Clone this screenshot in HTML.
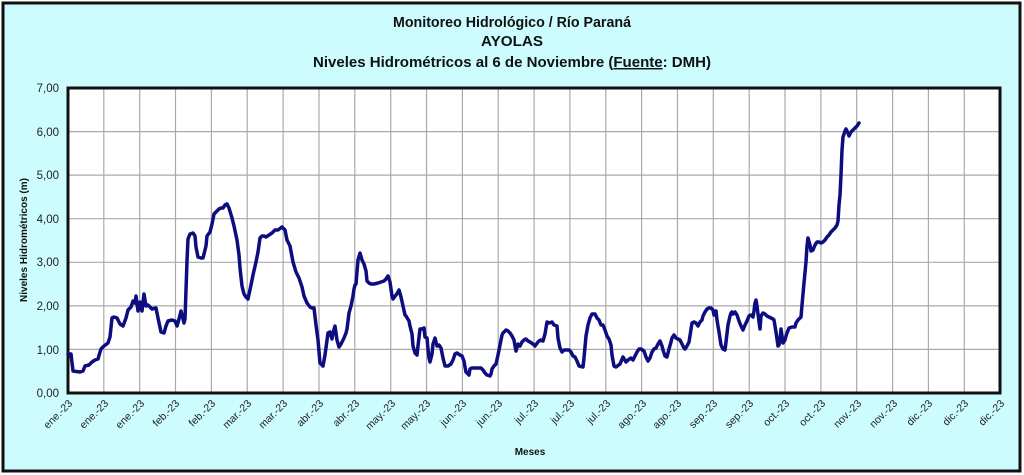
<!DOCTYPE html>
<html><head><meta charset="utf-8"><style>
html,body{margin:0;padding:0;background:#fff}
svg{display:block;font-family:"Liberation Sans",sans-serif}
</style></head><body>
<svg width="1024" height="475" viewBox="0 0 1024 475" xmlns="http://www.w3.org/2000/svg">
<rect x="0" y="0" width="1024" height="475" fill="#fff"/>
<rect x="3" y="3" width="1017" height="468" fill="#ccfcfd" stroke="#111" stroke-width="3"/>
<g font-weight="bold" font-size="14.5" text-anchor="middle" fill="#111">
<text x="512" y="27" textLength="238" lengthAdjust="spacingAndGlyphs">Monitoreo Hidrológico / Río Paraná</text>
<text x="512" y="46" textLength="62" lengthAdjust="spacingAndGlyphs">AYOLAS</text>
<text x="512" y="67" textLength="398" lengthAdjust="spacingAndGlyphs">Niveles Hidrométricos al 6 de Noviembre (<tspan text-decoration="underline">Fuente</tspan>: DMH)</text>
</g>
<rect x="68" y="88" width="932" height="305" fill="#fff"/>
<g stroke="#aaa" stroke-width="1.2">
<line x1="68" y1="131.6" x2="1000" y2="131.6"/><line x1="68" y1="175.1" x2="1000" y2="175.1"/>
<line x1="68" y1="218.7" x2="1000" y2="218.7"/><line x1="68" y1="262.3" x2="1000" y2="262.3"/>
<line x1="68" y1="305.9" x2="1000" y2="305.9"/><line x1="68" y1="349.4" x2="1000" y2="349.4"/>
<line x1="103.8" y1="88" x2="103.8" y2="393"/><line x1="139.7" y1="88" x2="139.7" y2="393"/>
<line x1="175.5" y1="88" x2="175.5" y2="393"/><line x1="211.4" y1="88" x2="211.4" y2="393"/>
<line x1="247.2" y1="88" x2="247.2" y2="393"/><line x1="283.1" y1="88" x2="283.1" y2="393"/>
<line x1="319" y1="88" x2="319" y2="393"/><line x1="354.8" y1="88" x2="354.8" y2="393"/>
<line x1="390.7" y1="88" x2="390.7" y2="393"/><line x1="426.5" y1="88" x2="426.5" y2="393"/>
<line x1="462.4" y1="88" x2="462.4" y2="393"/><line x1="498.2" y1="88" x2="498.2" y2="393"/>
<line x1="534.1" y1="88" x2="534.1" y2="393"/><line x1="569.9" y1="88" x2="569.9" y2="393"/>
<line x1="605.8" y1="88" x2="605.8" y2="393"/><line x1="641.6" y1="88" x2="641.6" y2="393"/>
<line x1="677.5" y1="88" x2="677.5" y2="393"/><line x1="713.3" y1="88" x2="713.3" y2="393"/>
<line x1="749.2" y1="88" x2="749.2" y2="393"/><line x1="785" y1="88" x2="785" y2="393"/>
<line x1="820.9" y1="88" x2="820.9" y2="393"/><line x1="856.7" y1="88" x2="856.7" y2="393"/>
<line x1="892.6" y1="88" x2="892.6" y2="393"/><line x1="928.4" y1="88" x2="928.4" y2="393"/>
<line x1="964.3" y1="88" x2="964.3" y2="393"/>
</g>
<rect x="68" y="88" width="932" height="305" fill="none" stroke="#111" stroke-width="3"/>
<g font-size="11.5" fill="#222" text-anchor="end">
<text x="59" y="92">7,00</text><text x="59" y="136">6,00</text><text x="59" y="179">5,00</text>
<text x="59" y="223">4,00</text><text x="59" y="266">3,00</text><text x="59" y="310">2,00</text>
<text x="59" y="354">1,00</text><text x="59" y="397">0,00</text>
</g>
<text transform="translate(27,240) rotate(-90)" font-size="10" font-weight="bold" text-anchor="middle" fill="#111">Niveles Hidrométricos (m)</text>
<text x="530" y="455" font-size="10" font-weight="bold" text-anchor="middle" fill="#111">Meses</text>
<g font-size="10.5" fill="#222" text-anchor="end">
<text transform="translate(73,404) rotate(-45)">ene.-23</text>
<text transform="translate(109,404) rotate(-45)">ene.-23</text>
<text transform="translate(145,404) rotate(-45)">ene.-23</text>
<text transform="translate(180,404) rotate(-45)">feb.-23</text>
<text transform="translate(216,404) rotate(-45)">feb.-23</text>
<text transform="translate(252,404) rotate(-45)">mar.-23</text>
<text transform="translate(288,404) rotate(-45)">mar.-23</text>
<text transform="translate(324,404) rotate(-45)">abr.-23</text>
<text transform="translate(360,404) rotate(-45)">abr.-23</text>
<text transform="translate(396,404) rotate(-45)">may.-23</text>
<text transform="translate(431,404) rotate(-45)">may.-23</text>
<text transform="translate(467,404) rotate(-45)">jun.-23</text>
<text transform="translate(503,404) rotate(-45)">jun.-23</text>
<text transform="translate(539,404) rotate(-45)">jul.-23</text>
<text transform="translate(575,404) rotate(-45)">jul.-23</text>
<text transform="translate(611,404) rotate(-45)">jul.-23</text>
<text transform="translate(647,404) rotate(-45)">ago.-23</text>
<text transform="translate(682,404) rotate(-45)">ago.-23</text>
<text transform="translate(718,404) rotate(-45)">sep.-23</text>
<text transform="translate(754,404) rotate(-45)">sep.-23</text>
<text transform="translate(790,404) rotate(-45)">oct.-23</text>
<text transform="translate(826,404) rotate(-45)">oct.-23</text>
<text transform="translate(862,404) rotate(-45)">nov.-23</text>
<text transform="translate(898,404) rotate(-45)">nov.-23</text>
<text transform="translate(933,404) rotate(-45)">dic.-23</text>
<text transform="translate(969,404) rotate(-45)">dic.-23</text>
<text transform="translate(1005,404) rotate(-45)">dic.-23</text>
</g>
<polyline fill="none" stroke="#0d0d80" stroke-width="3.5" stroke-linejoin="round" stroke-linecap="round" points="
68,354 71,354 73,371 80,372 83,371 85,366 89,365 92,362 95,360 98,359 100,352 101,349 104,346 108,343 110,337 112,318 114,317 117,318 120,324 123,326 126,318 128,310 131,307 133,301 135,303 136,296 138,311 140,302 142,311 144,294 146,306 148,305 152,309 156,308 158,318 161,332 164,333 166,326 168,321 172,320 175,321 177,326 179,319 181,311 184,323 185,319 187,261 188,239 190,234 193,233 195,236 196,247 198,257 201,258 203,258 206,246 207,236 210,232 212,224 214,214 216,212 219,209 221,208 223,208 225,205 227,204 229,208 232,218 234,226 237,240 239,255 240,268 242,286 244,294 246,297 248,299 251,285 253,275 256,262 258,252 260,238 262,236 264,236 266,237 269,235 272,233 275,230 278,230 282,227 285,230 287,240 290,246 293,262 296,272 299,278 302,287 304,296 307,303 310,307 312,308 314,308 316,325 318,340 320,363 323,366 325,355 328,333 330,332 332,339 333,333 335,326 337,340 339,347 341,344 344,338 346,333 347,329 349,313 351,306 353,296 354,289 355,285 356,284 358,260 360,253 362,260 364,264 366,271 367,281 369,283 371,284 374,284 378,283 381,282 384,281 386,279 388,276 390,282 391,289 392,296 393,299 396,295 398,292 399,290 401,297 403,306 405,315 406,316 409,321 410,326 411,330 412,334 413,346 415,353 417,355 418,346 420,329 422,329 424,328 425,337 427,338 428,349 429,358 430,362 432,354 433,344 435,338 437,346 439,345 441,348 443,358 445,366 448,366 451,364 453,360 455,354 457,353 460,355 462,356 464,361 465,367 466,372 469,375 470,369 472,368 475,368 478,368 481,368 483,370 485,373 487,375 490,376 491,374 492,369 494,366 496,364 498,355 500,345 502,335 503,333 506,330 508,331 510,333 512,336 514,340 515,346 516,351 518,344 520,346 522,342 524,340 526,339 528,341 530,342 533,344 535,346 538,342 539,341 541,340 543,341 545,334 547,322 549,323 552,322 554,325 557,326 558,338 560,348 562,352 564,350 566,350 569,350 571,352 573,356 575,357 577,361 579,366 583,367 584,358 586,336 588,325 590,318 592,314 595,314 597,318 599,320 601,325 603,325 605,330 607,336 609,339 611,345 612,355 614,366 616,367 620,364 623,357 626,362 628,360 631,358 633,360 635,356 637,352 639,349 641,349 644,351 646,357 648,361 650,358 652,352 654,349 656,348 658,344 660,341 662,346 663,350 665,356 667,357 669,349 671,342 672,338 674,335 676,338 678,339 680,340 682,344 684,348 685,349 687,346 689,342 692,323 694,322 696,323 698,326 700,322 702,320 703,316 705,312 707,309 709,308 711,308 713,310 714,315 716,311 717,320 719,332 721,345 723,349 725,350 726,342 728,325 730,316 731,313 732,312 733,314 735,312 737,315 739,321 741,326 743,330 745,325 747,321 749,316 751,315 753,317 754,311 755,303 756,300 757,306 758,314 760,329 761,316 763,313 765,314 767,316 769,317 771,318 773,319 774,320 775,326 776,332 777,339 778,346 779,345 780,340 781,329 782,336 783,343 785,340 786,336 787,333 789,328 792,327 795,327 796,323 798,320 799,319 801,317 802,305 804,283 806,262 807,246 808,238 810,245 811,251 813,250 815,245 817,242 819,242 821,243 823,242 825,240 827,237 829,235 831,232 833,230 835,228 837,225 838,221 839,205 840,195 841,175 842,150 843,137 845,131 846,129 848,133 849,136 851,132 853,130 855,128 857,126 859,123"/>
</svg>
</body></html>
